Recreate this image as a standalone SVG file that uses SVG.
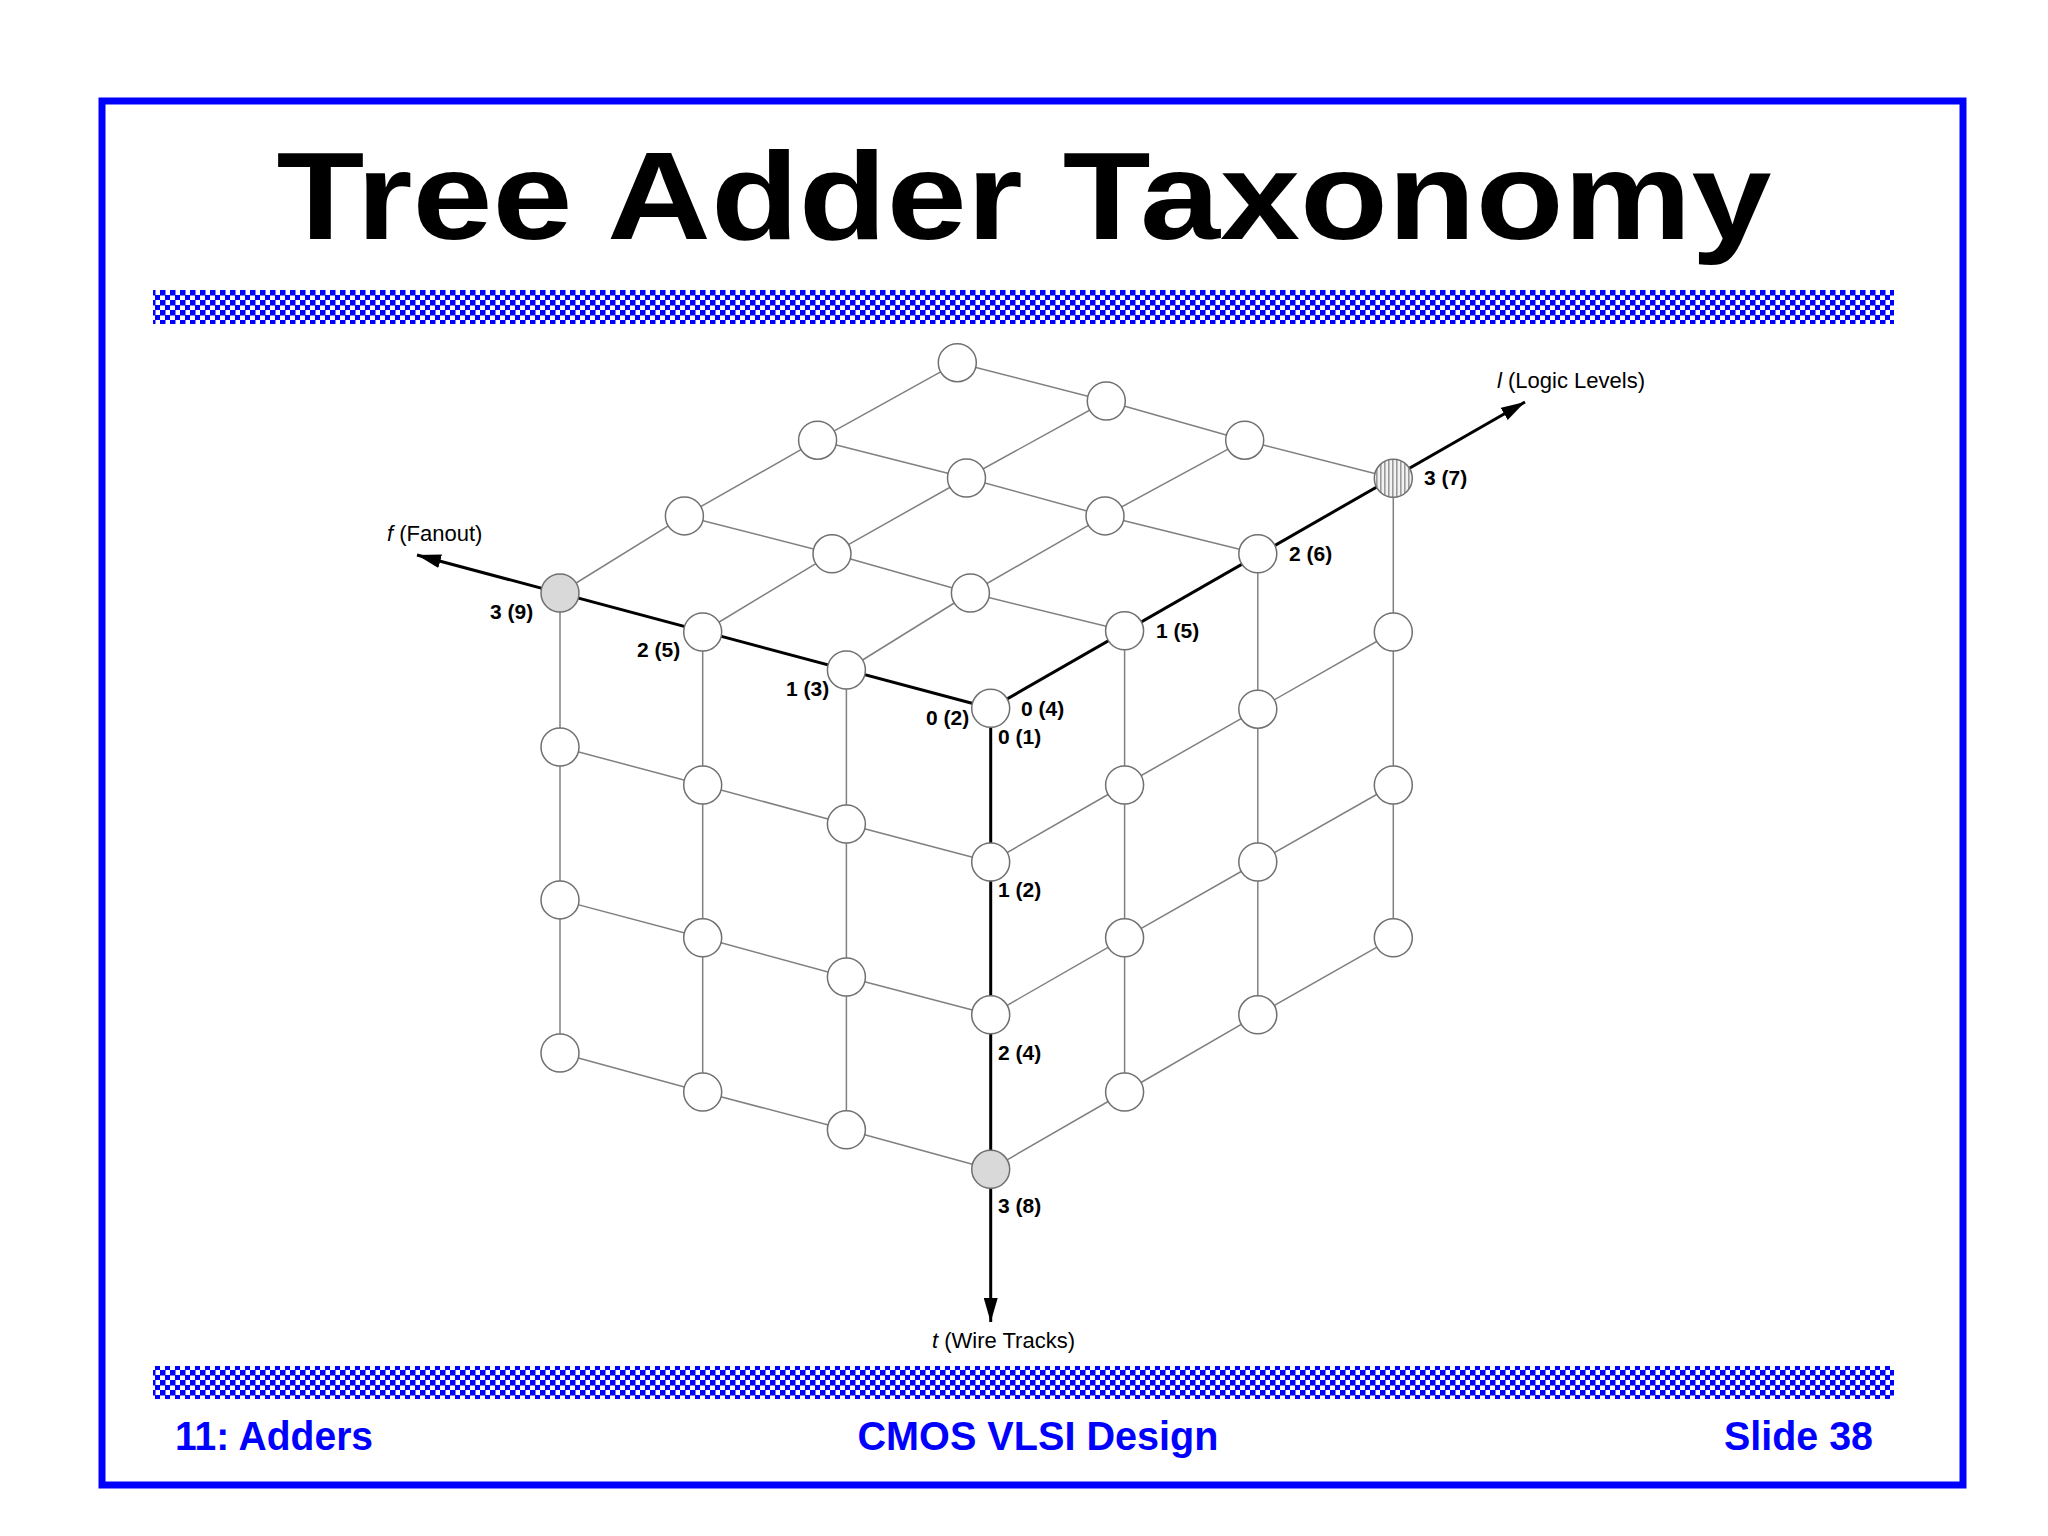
<svg xmlns="http://www.w3.org/2000/svg" width="2048" height="1536" viewBox="0 0 2048 1536">
<defs>
<pattern id="chk" width="10" height="10" patternUnits="userSpaceOnUse">
<rect width="10" height="10" fill="#ffffff"/>
<rect width="5.5" height="5.5" fill="#0000ff"/>
<rect x="5" y="5" width="5.5" height="5.5" fill="#0000ff"/>
</pattern>
<pattern id="vstripe" width="4" height="4" patternUnits="userSpaceOnUse">
<rect width="4" height="4" fill="#f2f2f2"/>
<rect width="1.6" height="4" fill="#9a9a9a"/>
</pattern>
<marker id="arr" markerUnits="userSpaceOnUse" markerWidth="24" markerHeight="14" viewBox="0 0 24 14" refX="24" refY="7" orient="auto">
<path d="M0,0 L24,7 L0,14 z" fill="#000"/>
</marker>
<style>
.grid{fill:none;stroke:#808080;stroke-width:1.5}
.axis{fill:none;stroke:#000;stroke-width:3;marker-end:url(#arr)}
.node{fill:#fff;stroke:#707070;stroke-width:1.5}
.dot{fill:#d9d9d9}
.stripe{fill:url(#vstripe)}
.lbl{font-family:"Liberation Sans",Arial,sans-serif;font-weight:bold;font-size:21px;fill:#000}
.ax{font-family:"Liberation Sans",Arial,sans-serif;font-size:22px;fill:#000}
.foot{font-family:"Liberation Sans",Arial,sans-serif;font-weight:bold;font-size:41px;fill:#0000ff}
</style>
</defs>
<rect width="2048" height="1536" fill="#fff"/>
<rect x="102" y="101" width="1861" height="1384" fill="none" stroke="#0000ff" stroke-width="7"/>
<text x="1024" y="239" text-anchor="middle" textLength="1495" lengthAdjust="spacingAndGlyphs" font-family="'Liberation Sans',Arial,sans-serif" font-weight="900" font-size="124" fill="#000">Tree Adder Taxonomy</text>
<rect x="153" y="290" width="1741" height="34" fill="url(#chk)"/>
<rect x="153" y="1366" width="1741" height="33" fill="url(#chk)"/>

<g id="connectors">
<path class="grid" d="M1124.6,630.8 L970.4,593 L832,553.8 L684.4,515.9"/>
<path class="grid" d="M1257.8,553.8 L1105,515.9 L966.5,478 L817.6,440.2"/>
<path class="grid" d="M1393.3,478.3 L1244.7,440.2 L1106.3,401 L957.3,362.7"/>
<path class="grid" d="M846.4,670 L970.4,593 L1105,515.9 L1244.7,440.2"/>
<path class="grid" d="M702.7,632 L832,553.8 L966.5,478 L1106.3,401"/>
<path class="grid" d="M560,593 L684.4,515.9 L817.6,440.2 L957.3,362.7"/>
<path class="grid" d="M990.7,862 L846.4,824.1 L702.7,785 L560,747"/>
<path class="grid" d="M990.7,1014.8 L846.4,977 L702.7,937.8 L560,899.9"/>
<path class="grid" d="M990.7,1169.3 L846.4,1129.8 L702.7,1092 L560,1053"/>
<path class="grid" d="M846.4,670 L846.4,1129.8"/>
<path class="grid" d="M702.7,632 L702.7,1092"/>
<path class="grid" d="M560,593 L560,1053"/>
<path class="grid" d="M990.7,862 L1124.6,785 L1257.8,709.2 L1393.3,632"/>
<path class="grid" d="M990.7,1014.8 L1124.6,937.8 L1257.8,862 L1393.3,785"/>
<path class="grid" d="M990.7,1169.3 L1124.6,1092 L1257.8,1014.8 L1393.3,937.8"/>
<path class="grid" d="M1124.6,630.8 L1124.6,1092"/>
<path class="grid" d="M1257.8,553.8 L1257.8,1014.8"/>
<path class="grid" d="M1393.3,478.3 L1393.3,937.8"/>
<path class="axis" d="M990.7,708.3 L417,555"/>
<path class="axis" d="M990.7,708.3 L1525,402"/>
<path class="axis" d="M990.7,708.3 L990.7,1322"/>
</g>

<text class="ax" x="387" y="541"><tspan font-style="italic">f</tspan> (Fanout)</text>
<text class="ax" x="1497" y="388"><tspan font-style="italic">l</tspan> (Logic Levels)</text>
<text class="ax" x="932" y="1348"><tspan font-style="italic">t</tspan> (Wire Tracks)</text>

<g id="n000"><circle class="node" cx="990.7" cy="708.3" r="19"/><text class="lbl" x="926" y="725">0 (2)</text><text class="lbl" x="1021" y="716">0 (4)</text><text class="lbl" x="998" y="744">0 (1)</text></g>
<g id="nf1"><circle class="node" cx="846.4" cy="670" r="19"/><text class="lbl" x="786" y="696">1 (3)</text></g>
<g id="nf2"><circle class="node" cx="702.7" cy="632" r="19"/><text class="lbl" x="637" y="657">2 (5)</text></g>
<g id="nf3"><circle class="node dot" cx="560" cy="593" r="19"/><text class="lbl" x="490" y="619">3 (9)</text></g>
<g id="nl1"><circle class="node" cx="1124.6" cy="630.8" r="19"/><text class="lbl" x="1156" y="638">1 (5)</text></g>
<g id="nl2"><circle class="node" cx="1257.8" cy="553.8" r="19"/><text class="lbl" x="1289" y="561">2 (6)</text></g>
<g id="nl3"><circle class="node stripe" cx="1393.3" cy="478.3" r="19"/><text class="lbl" x="1424" y="485">3 (7)</text></g>
<g id="nt1"><circle class="node" cx="990.7" cy="862" r="19"/><text class="lbl" x="998" y="897">1 (2)</text></g>
<g id="nt2"><circle class="node" cx="990.7" cy="1014.8" r="19"/><text class="lbl" x="998" y="1060">2 (4)</text></g>
<g id="nt3"><circle class="node dot" cx="990.7" cy="1169.3" r="19"/><text class="lbl" x="998" y="1213">3 (8)</text></g>

<g id="top-face-nodes">
<g id="n-f1-l1"><circle class="node" cx="970.4" cy="593" r="19"/></g>
<g id="n-f2-l1"><circle class="node" cx="832" cy="553.8" r="19"/></g>
<g id="n-f3-l1"><circle class="node" cx="684.4" cy="515.9" r="19"/></g>
<g id="n-f1-l2"><circle class="node" cx="1105" cy="515.9" r="19"/></g>
<g id="n-f2-l2"><circle class="node" cx="966.5" cy="478" r="19"/></g>
<g id="n-f3-l2"><circle class="node" cx="817.6" cy="440.2" r="19"/></g>
<g id="n-f1-l3"><circle class="node" cx="1244.7" cy="440.2" r="19"/></g>
<g id="n-f2-l3"><circle class="node" cx="1106.3" cy="401" r="19"/></g>
<g id="n-f3-l3"><circle class="node" cx="957.3" cy="362.7" r="19"/></g>
</g>
<g id="left-face-nodes">
<g id="n-f1-t1"><circle class="node" cx="846.4" cy="824.1" r="19"/></g>
<g id="n-f2-t1"><circle class="node" cx="702.7" cy="785" r="19"/></g>
<g id="n-f3-t1"><circle class="node" cx="560" cy="747" r="19"/></g>
<g id="n-f1-t2"><circle class="node" cx="846.4" cy="977" r="19"/></g>
<g id="n-f2-t2"><circle class="node" cx="702.7" cy="937.8" r="19"/></g>
<g id="n-f3-t2"><circle class="node" cx="560" cy="899.9" r="19"/></g>
<g id="n-f1-t3"><circle class="node" cx="846.4" cy="1129.8" r="19"/></g>
<g id="n-f2-t3"><circle class="node" cx="702.7" cy="1092" r="19"/></g>
<g id="n-f3-t3"><circle class="node" cx="560" cy="1053" r="19"/></g>
</g>
<g id="right-face-nodes">
<g id="n-l1-t1"><circle class="node" cx="1124.6" cy="785" r="19"/></g>
<g id="n-l2-t1"><circle class="node" cx="1257.8" cy="709.2" r="19"/></g>
<g id="n-l3-t1"><circle class="node" cx="1393.3" cy="632" r="19"/></g>
<g id="n-l1-t2"><circle class="node" cx="1124.6" cy="937.8" r="19"/></g>
<g id="n-l2-t2"><circle class="node" cx="1257.8" cy="862" r="19"/></g>
<g id="n-l3-t2"><circle class="node" cx="1393.3" cy="785" r="19"/></g>
<g id="n-l1-t3"><circle class="node" cx="1124.6" cy="1092" r="19"/></g>
<g id="n-l2-t3"><circle class="node" cx="1257.8" cy="1014.8" r="19"/></g>
<g id="n-l3-t3"><circle class="node" cx="1393.3" cy="937.8" r="19"/></g>
</g>

<text class="foot" x="175" y="1450" textLength="198" lengthAdjust="spacingAndGlyphs">11: Adders</text>
<text class="foot" x="1038" y="1450" text-anchor="middle" textLength="361" lengthAdjust="spacingAndGlyphs">CMOS VLSI Design</text>
<text class="foot" x="1873" y="1450" text-anchor="end" textLength="149" lengthAdjust="spacingAndGlyphs">Slide 38</text>
</svg>
